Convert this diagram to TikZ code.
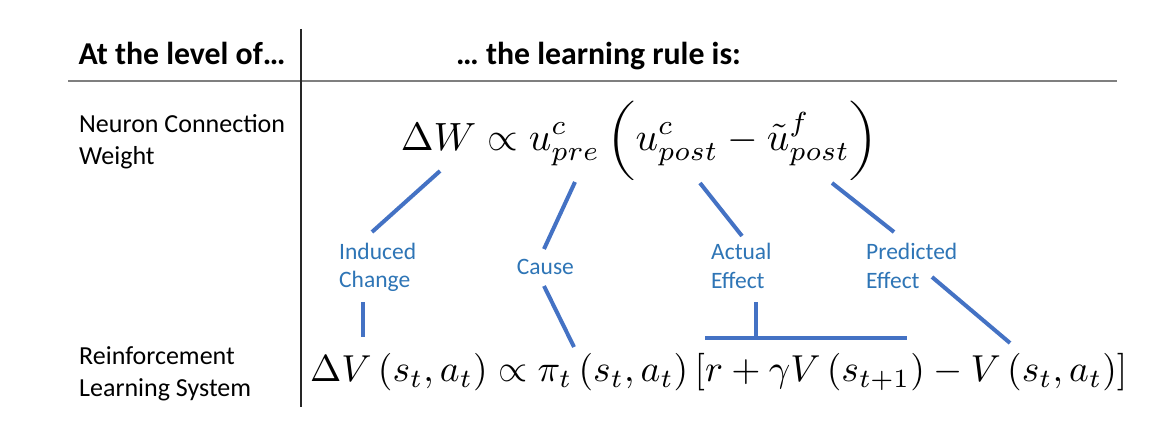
\documentclass[tikz,border=0pt]{standalone}
\usepackage{fontspec}
\setmainfont{Carlito}
\usepackage{graphicx}
\definecolor{lineblue}{HTML}{4472C4}
\definecolor{textblue}{HTML}{2E75B6}
\definecolor{rulegray}{HTML}{7F7F7F}
\newcommand{\myopen}{\mathopen{\vcenter{\hbox{\scalebox{1}[0.84]{$\biggl($}}}}}
\newcommand{\myclose}{\mathclose{\vcenter{\hbox{\scalebox{1}[0.84]{$\biggr)$}}}}}
\tikzset{
  hdr/.style={font=\fontsize{31.8}{36}\selectfont\bfseries, inner sep=0pt, anchor=base west, text=black},
  lbl/.style={font=\fontsize{26}{31.7}\selectfont, inner sep=0pt, anchor=base west, text=black},
  blbl/.style={font=\fontsize{23.5}{28.7}\selectfont, inner sep=0pt, anchor=base west, text=textblue},
  eqn/.style={inner sep=0pt, anchor=base west, font=\normalsize},
  conn/.style={draw=lineblue, line width=4pt},
}
\begin{document}
\begin{tikzpicture}[x=1pt,y=-1pt]
\fill[white] (0,0) rectangle (1161,446);
\useasboundingbox (0,0) rectangle (1161,446);

% table rules
\coordinate (hl) at (68,81);
\coordinate (hr) at (1117,81);
\coordinate (vt) at (301,29);
\coordinate (vb) at (301,407);
\draw[rulegray, line width=2.2pt] (hl) -- (hr);
\draw[black!85, line width=1.3pt] (vt) -- (vb);

% headers
\node[hdr] (h1) at (78.3,65) {At the level of…};
\node[hdr] (h2) at (456,65) {… the learning rule is:};

% row labels
\node[lbl] (l1) at (79,132.7) {\begin{tabular}[t]{@{}l@{}}Neuron Connection\\Weight\end{tabular}};
\node[lbl] (l2) at (79,364.3) {\begin{tabular}[t]{@{}l@{}}Reinforcement\\Learning System\end{tabular}};

% equations
\node[eqn] (eqtop) at (400.7,150.7) {\resizebox{478pt}{!}{$\displaystyle \Delta W \propto u^{c}_{pre}\mathinner{\myopen u^{c}_{post}-\tilde{u}^{f}_{post}\myclose}$}};
\node[eqn] (eqbot) at (310,381.7) {\resizebox{817pt}{!}{$\displaystyle \Delta V\left(s_t,a_t\right)\propto\pi_t\left(s_t,a_t\right)\left[r+\gamma V\left(s_{t+1}\right)-V\left(s_t,a_t\right)\right]$}};

% blue labels
\node[blbl] (ind) at (339,259) {\begin{tabular}[t]{@{}l@{}}Induced\\Change\end{tabular}};
\node[blbl] (cause) at (516.7,275) {Cause};
\node[blbl] (act) at (711,260) {\begin{tabular}[t]{@{}l@{}}Actual\\Effect\end{tabular}};
\node[blbl] (pred) at (866,260) {\begin{tabular}[t]{@{}l@{}}Predicted\\Effect\end{tabular}};

% connector end points
\coordinate (c1a) at (440,171);  \coordinate (c1b) at (372,232);
\coordinate (c2a) at (363,302);  \coordinate (c2b) at (363,337);
\coordinate (c3a) at (575,182);  \coordinate (c3b) at (544,249);
\coordinate (c4a) at (544,286);  \coordinate (c4b) at (574,347);
\coordinate (c5a) at (700,183);  \coordinate (c5b) at (742,236);
\coordinate (c6a) at (756,302);  \coordinate (c6b) at (756,338);
\coordinate (brl) at (705,338);  \coordinate (brr) at (907,338);
\coordinate (c7a) at (832,183);  \coordinate (c7b) at (894,232);
\coordinate (c8a) at (932,277);  \coordinate (c8b) at (1010,343);

\draw[conn] (c1a) -- (c1b);
\draw[conn] (c2a) -- (c2b);
\draw[conn] (c3a) -- (c3b);
\draw[conn] (c4a) -- (c4b);
\draw[conn] (c5a) -- (c5b);
\draw[conn] (c6a) -- (c6b);
\draw[conn] (brl) -- (brr);
\draw[conn] (c7a) -- (c7b);
\draw[conn] (c8a) -- (c8b);
\end{tikzpicture}
\end{document}
